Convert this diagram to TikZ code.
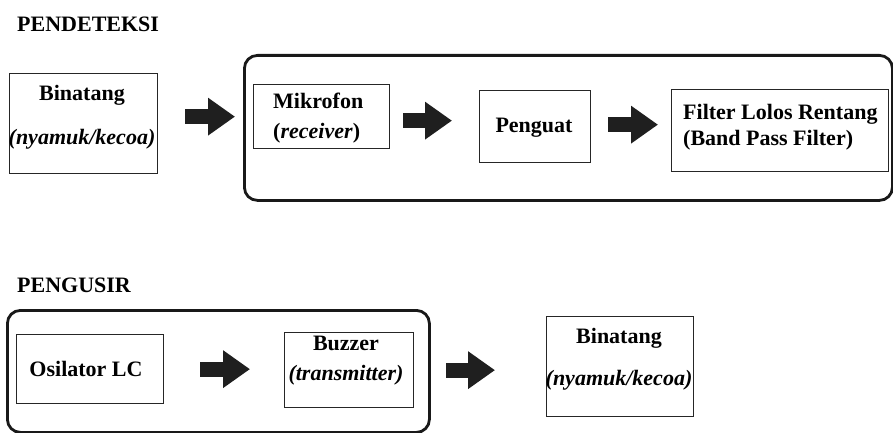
\documentclass[tikz,border=0pt]{standalone}
\usepackage{fontspec}
\setmainfont{Liberation Serif}
\usetikzlibrary{arrows.meta,positioning}

\begin{document}
\begin{tikzpicture}[x=1pt,y=-1pt,
  font=\fontsize{22}{25}\selectfont\bfseries,
  kotak/.style={draw=black!85,line width=1.3pt,inner sep=0pt,anchor=north west},
  grup/.style={draw=black!90,line width=2.8pt,rounded corners=13pt,inner sep=0pt,anchor=north west},
  judul/.style={anchor=base west,inner sep=0pt},
  teks/.style={anchor=base,inner sep=0pt,align=center},
  panah/.style={draw=black!88,line width=15pt,-{Triangle[length=27pt,width=36pt]}}]
  \useasboundingbox (0,0) rectangle (893,433);

  % bagian pendeteksi
  \node[judul] (jdet) at (17,32) {PENDETEKSI};
  \node[grup,minimum width=648pt,minimum height=145pt] (det) at (243,54) {};
  \node[kotak,minimum width=148pt,minimum height=100pt] (bin1) at (9,73) {};
  \node[kotak,minimum width=136pt,minimum height=64pt] (mic) at (253,84) {};
  \node[kotak,minimum width=111pt,minimum height=72pt] (pen) at (479,90) {};
  \node[kotak,minimum width=217pt,minimum height=82pt] (filt) at (671,89) {};
  \node[teks] (tbin1) at (82,144) {Binatang\\[19pt]\textit{(nyamuk/kecoa)}};
  \node[teks,align=left,anchor=base west] (tmic) at (273,139) {Mikrofon\\[5pt](\textit{receiver})};
  \node[teks] (tpen) at (534,132) {Penguat};
  \node[teks,align=left,anchor=base west] (tfilt) at (683,145) {Filter Lolos Rentang\\(Band Pass Filter)};

  % bagian pengusir
  \node[judul] (jusir) at (17,292) {PENGUSIR};
  \node[grup,minimum width=422pt,minimum height=122pt] (usir) at (6,309) {};
  \node[kotak,minimum width=147pt,minimum height=69pt] (osc) at (16,334) {};
  \node[kotak,minimum width=129pt,minimum height=75pt] (buz) at (284,332) {};
  \node[kotak,minimum width=147pt,minimum height=100pt] (bin2) at (546,316) {};
  \node[teks] (tosc) at (86,376) {Osilator LC};
  \node[teks] (tbuz) at (346,380) {Buzzer\\[5pt]\textit{(transmitter)}};
  \node[teks] (tbin2) at (619,385) {Binatang\\[17pt]\textit{(nyamuk/kecoa)}};

  % panah blok
  \draw[panah,shorten <=27pt,shorten >=18pt] (bin1.east |- mic) -- (mic);
  \draw[panah,shorten <=13pt,shorten >=27pt] ([yshift=-4pt]mic.east) -- ([yshift=-4pt]mic.east -| pen.west);
  \draw[panah,shorten <=17pt,shorten >=13pt] ([yshift=2pt]pen.east) -- ([yshift=2pt]pen.east -| filt.west);
  \draw[panah,shorten <=36pt,shorten >=34pt] (osc) -- (osc -| buz.west);
  \draw[panah,shorten <=32pt,shorten >=51pt] (buz) -- (buz -| bin2.west);
\end{tikzpicture}
\end{document}
